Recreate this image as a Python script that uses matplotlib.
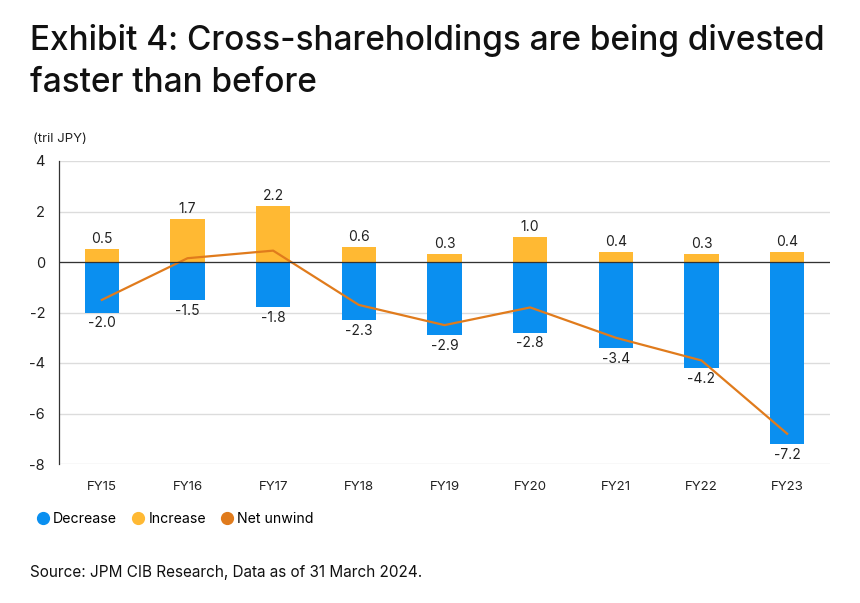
import matplotlib
matplotlib.use("Agg")
import matplotlib.pyplot as plt
import numpy as np
from matplotlib.lines import Line2D

categories = ["FY15", "FY16", "FY17", "FY18", "FY19", "FY20", "FY21", "FY22", "FY23"]
decrease = [-2.0, -1.5, -1.8, -2.3, -2.9, -2.8, -3.4, -4.2, -7.2]
increase = [0.5, 1.7, 2.2, 0.6, 0.3, 1.0, 0.4, 0.3, 0.4]
net_unwind = [-1.5, 0.15, 0.45, -1.7, -2.5, -1.8, -3.0, -3.9, -6.8]
yticks = [4, 2, 0, -2, -4, -6, -8]

BLUE = "#0A8FF0"
YELLOW = "#FFB933"
ORANGE = "#E07B1C"

plt.rcParams['font.family'] = ['Inter', 'DejaVu Sans']

fig = plt.figure(figsize=(8.6, 6.03), dpi=100)
ax = fig.add_axes([59/860, 1-464/603, (830-59)/860, (464-161)/603])

x = np.arange(len(categories))
w = 0.40
ax.bar(x, decrease, width=w, color=BLUE, zorder=3)
ax.bar(x, increase, width=w, color=YELLOW, zorder=3)
ax.plot(x, net_unwind, color=ORANGE, lw=1.6, zorder=4)

for xi, v in zip(x, increase):
    ax.text(xi, v + 0.12, f"{v:.1f}", ha="center", va="bottom", fontsize=10, color="#222222")
for xi, v in zip(x, decrease):
    ax.text(xi, v - 0.15, f"{v:.1f}", ha="center", va="top", fontsize=10, color="#222222")

ax.set_xlim(-0.5, 8.5)
ax.set_ylim(-8, 4)
ax.set_yticks(yticks)
ax.set_yticklabels([str(t) for t in yticks], fontsize=10.5, color="#222222")
ax.set_xticks(x)
ax.set_xticklabels(categories, fontsize=9.5, color="#222222")
ax.tick_params(axis="both", length=0)
ax.tick_params(axis="y", pad=10)
ax.tick_params(axis="x", pad=12)
ax.grid(axis="y", color="#DCDCDC", lw=1, zorder=0)
ax.axhline(0, color="#333333", lw=0.9, zorder=5)
for s in ["top", "right", "bottom"]:
    ax.spines[s].set_visible(False)
ax.spines["left"].set_color("#333333")
ax.spines["left"].set_linewidth(0.9)

fig.text(30/860, 1-50/603, "Exhibit 4: Cross-shareholdings are being divested", fontsize=24.0,
         fontweight="medium", color="#111111", ha="left", va="baseline")
fig.text(30/860, 1-92/603, "faster than before", fontsize=24.0,
         fontweight="medium", color="#111111", ha="left", va="baseline")
fig.text(33/860, 1-139/603, "(tril JPY)", fontsize=9.5, color="#222222", ha="left", va="center")

handles = [Line2D([], [], marker="o", ls="", color=BLUE, markersize=8.5),
           Line2D([], [], marker="o", ls="", color=YELLOW, markersize=8.5),
           Line2D([], [], marker="o", ls="", color=ORANGE, markersize=8.5)]
fig.legend(handles, ["Decrease", "Increase", "Net unwind"], loc="center left",
           bbox_to_anchor=(22/860, 1-519/603), ncol=3, frameon=False, fontsize=10.2,
           handletextpad=0.1, columnspacing=0.9, handlelength=1.2)

fig.text(30/860, 1-572/603, "Source: JPM CIB Research, Data as of 31 March 2024.", fontsize=11,
         color="#111111", ha="left", va="center")

fig.savefig("out.png", dpi=100)
